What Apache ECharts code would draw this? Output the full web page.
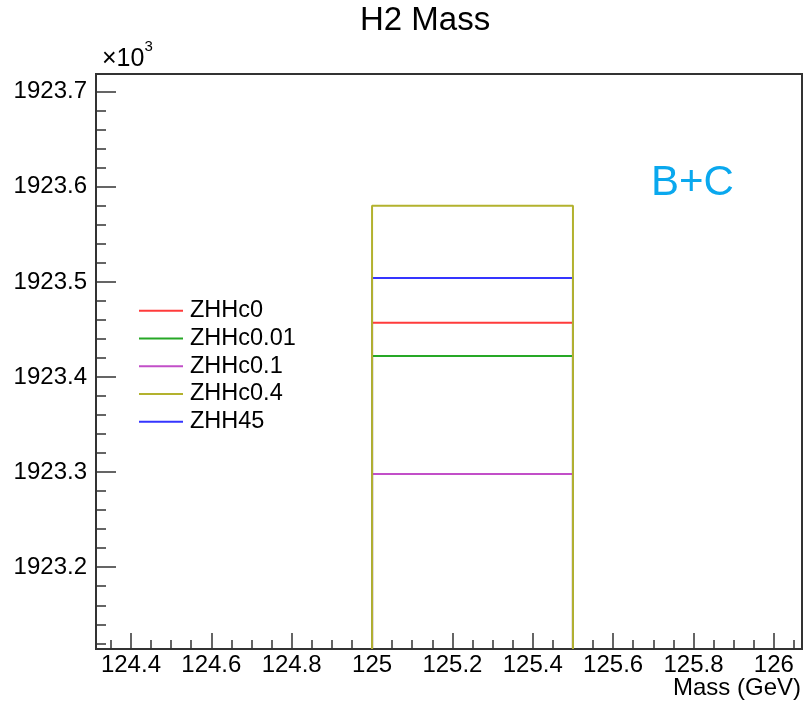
<!DOCTYPE html>
<html>
<head>
<meta charset="utf-8">
<title>H2 Mass</title>
<script src="https://cdn.jsdelivr.net/npm/echarts@6/dist/echarts.min.js"></script>
<style>
  html, body { margin: 0; padding: 0; background: #ffffff; }
  #chart { width: 805px; height: 701px; }
</style>
</head>
<body>
<div id="chart"></div>
<script>
// Histogram bin edges (GeV): a single filled bin
const binEdges = [125, 125.5];

// Sample names and the content of the bin for each sample
const sampleNames = ['ZHHc0', 'ZHHc0.01', 'ZHHc0.1', 'ZHHc0.4', 'ZHH45'];
const binContents = [1923457, 1923422, 1923298, 1923580, 1923504];
const sampleColors = ['#ff3b3b', '#26a826', '#c24fc8', '#b3b22e', '#3535ff'];

// Axis ranges and tick labels
const xRange = [124.313, 126.07];
const yRange = [1923114, 1923718.6];
const xTickLabels = [124.4, 124.6, 124.8, 125, 125.2, 125.4, 125.6, 125.8, 126];
const yTickLabels = [1923200, 1923300, 1923400, 1923500, 1923600, 1923700];

// Minor tick positions
const xMinorTicks = [];
for (let i = 0; i <= 34; i++) xMinorTicks.push(+(124.35 + i * 0.05).toFixed(2));
const yMinorTicks = [];
for (let i = 0; i <= 29; i++) yMinorTicks.push(1923120 + i * 20);

const FONT = '"Liberation Sans", Arial, Helvetica, sans-serif';
const AXIS_COLOR = '#333333';

const chart = echarts.init(document.getElementById('chart'), null, { renderer: 'canvas' });

// Each histogram is drawn as an outline: up the low edge, across the bin, down the high edge
const series = sampleNames.map((name, i) => ({
  name: name,
  type: 'line',
  xAxisIndex: 0,
  yAxisIndex: 0,
  symbol: 'none',
  clip: true,
  z: name === 'ZHHc0.4' ? 5 : 4,
  lineStyle: { color: sampleColors[i], width: 2 },
  itemStyle: { color: sampleColors[i] },
  data: [
    [binEdges[0], yRange[0]],
    [binEdges[0], binContents[i]],
    [binEdges[1], binContents[i]],
    [binEdges[1], yRange[0]]
  ]
}));

const option = {
  backgroundColor: '#ffffff',
  animation: false,
  grid: {
    left: 96, top: 74, right: 3, bottom: 52,
    show: true, borderColor: AXIS_COLOR, borderWidth: 2, backgroundColor: 'transparent'
  },
  legend: {
    orient: 'vertical',
    left: 139,
    top: 297,
    padding: 0,
    icon: 'rect',
    itemWidth: 44,
    itemHeight: 2,
    itemGap: 0,
    textStyle: { fontFamily: FONT, fontSize: 23.5, lineHeight: 27.7, color: '#000000', padding: [0, 0, 0, 2] },
    data: sampleNames
  },
  xAxis: [
    {
      type: 'value', min: xRange[0], max: xRange[1], position: 'bottom',
      axisLine: { show: true, lineStyle: { color: AXIS_COLOR, width: 2 } },
      axisTick: { show: true, inside: true, length: 16, lineStyle: { color: AXIS_COLOR, width: 1.5 }, customValues: xTickLabels },
      axisLabel: { show: true, customValues: xTickLabels, margin: 4, fontFamily: FONT, fontSize: 24, color: '#000000',
        formatter: v => String(+v.toFixed(1)) },
      splitLine: { show: false }
    },
    {
      type: 'value', min: xRange[0], max: xRange[1], position: 'bottom',
      axisLine: { show: false },
      axisTick: { show: true, inside: true, length: 9, lineStyle: { color: AXIS_COLOR, width: 1.5 }, customValues: xMinorTicks },
      axisLabel: { show: false },
      splitLine: { show: false }
    }
  ],
  yAxis: [
    {
      type: 'value', min: yRange[0], max: yRange[1], position: 'left',
      axisLine: { show: true, lineStyle: { color: AXIS_COLOR, width: 2 } },
      axisTick: { show: true, inside: true, length: 20, lineStyle: { color: AXIS_COLOR, width: 1.5 }, customValues: yTickLabels },
      axisLabel: { show: true, customValues: yTickLabels, margin: 9, fontFamily: FONT, fontSize: 24, color: '#000000',
        formatter: v => (v / 1000).toFixed(1) },
      splitLine: { show: false }
    },
    {
      type: 'value', min: yRange[0], max: yRange[1], position: 'left',
      axisLine: { show: false },
      axisTick: { show: true, inside: true, length: 10, lineStyle: { color: AXIS_COLOR, width: 1.5 }, customValues: yMinorTicks },
      axisLabel: { show: false },
      splitLine: { show: false }
    }
  ],
  graphic: [
    { type: 'text', left: 428 - 68, top: 4,
      style: { text: 'H2 Mass', font: '33px ' + FONT, fill: '#000000' } },
    { type: 'text', right: 4, top: 676,
      style: { text: 'Mass (GeV)', font: '24px ' + FONT, fill: '#000000' } },
    { type: 'text', left: 102, top: 39,
      style: { text: '{a|×10}{b|3}', rich: {
        a: { font: '25px ' + FONT, fill: '#000000', verticalAlign: 'bottom', padding: [8, 0, 0, 0] },
        b: { font: '15px ' + FONT, fill: '#000000', verticalAlign: 'top' }
      } } },
    { type: 'text', left: 651, top: 162,
      style: { text: 'B+C', font: '42px ' + FONT, fill: '#0aa8ee' } }
  ],
  series: series
};

chart.setOption(option);
</script>
</body>
</html>
